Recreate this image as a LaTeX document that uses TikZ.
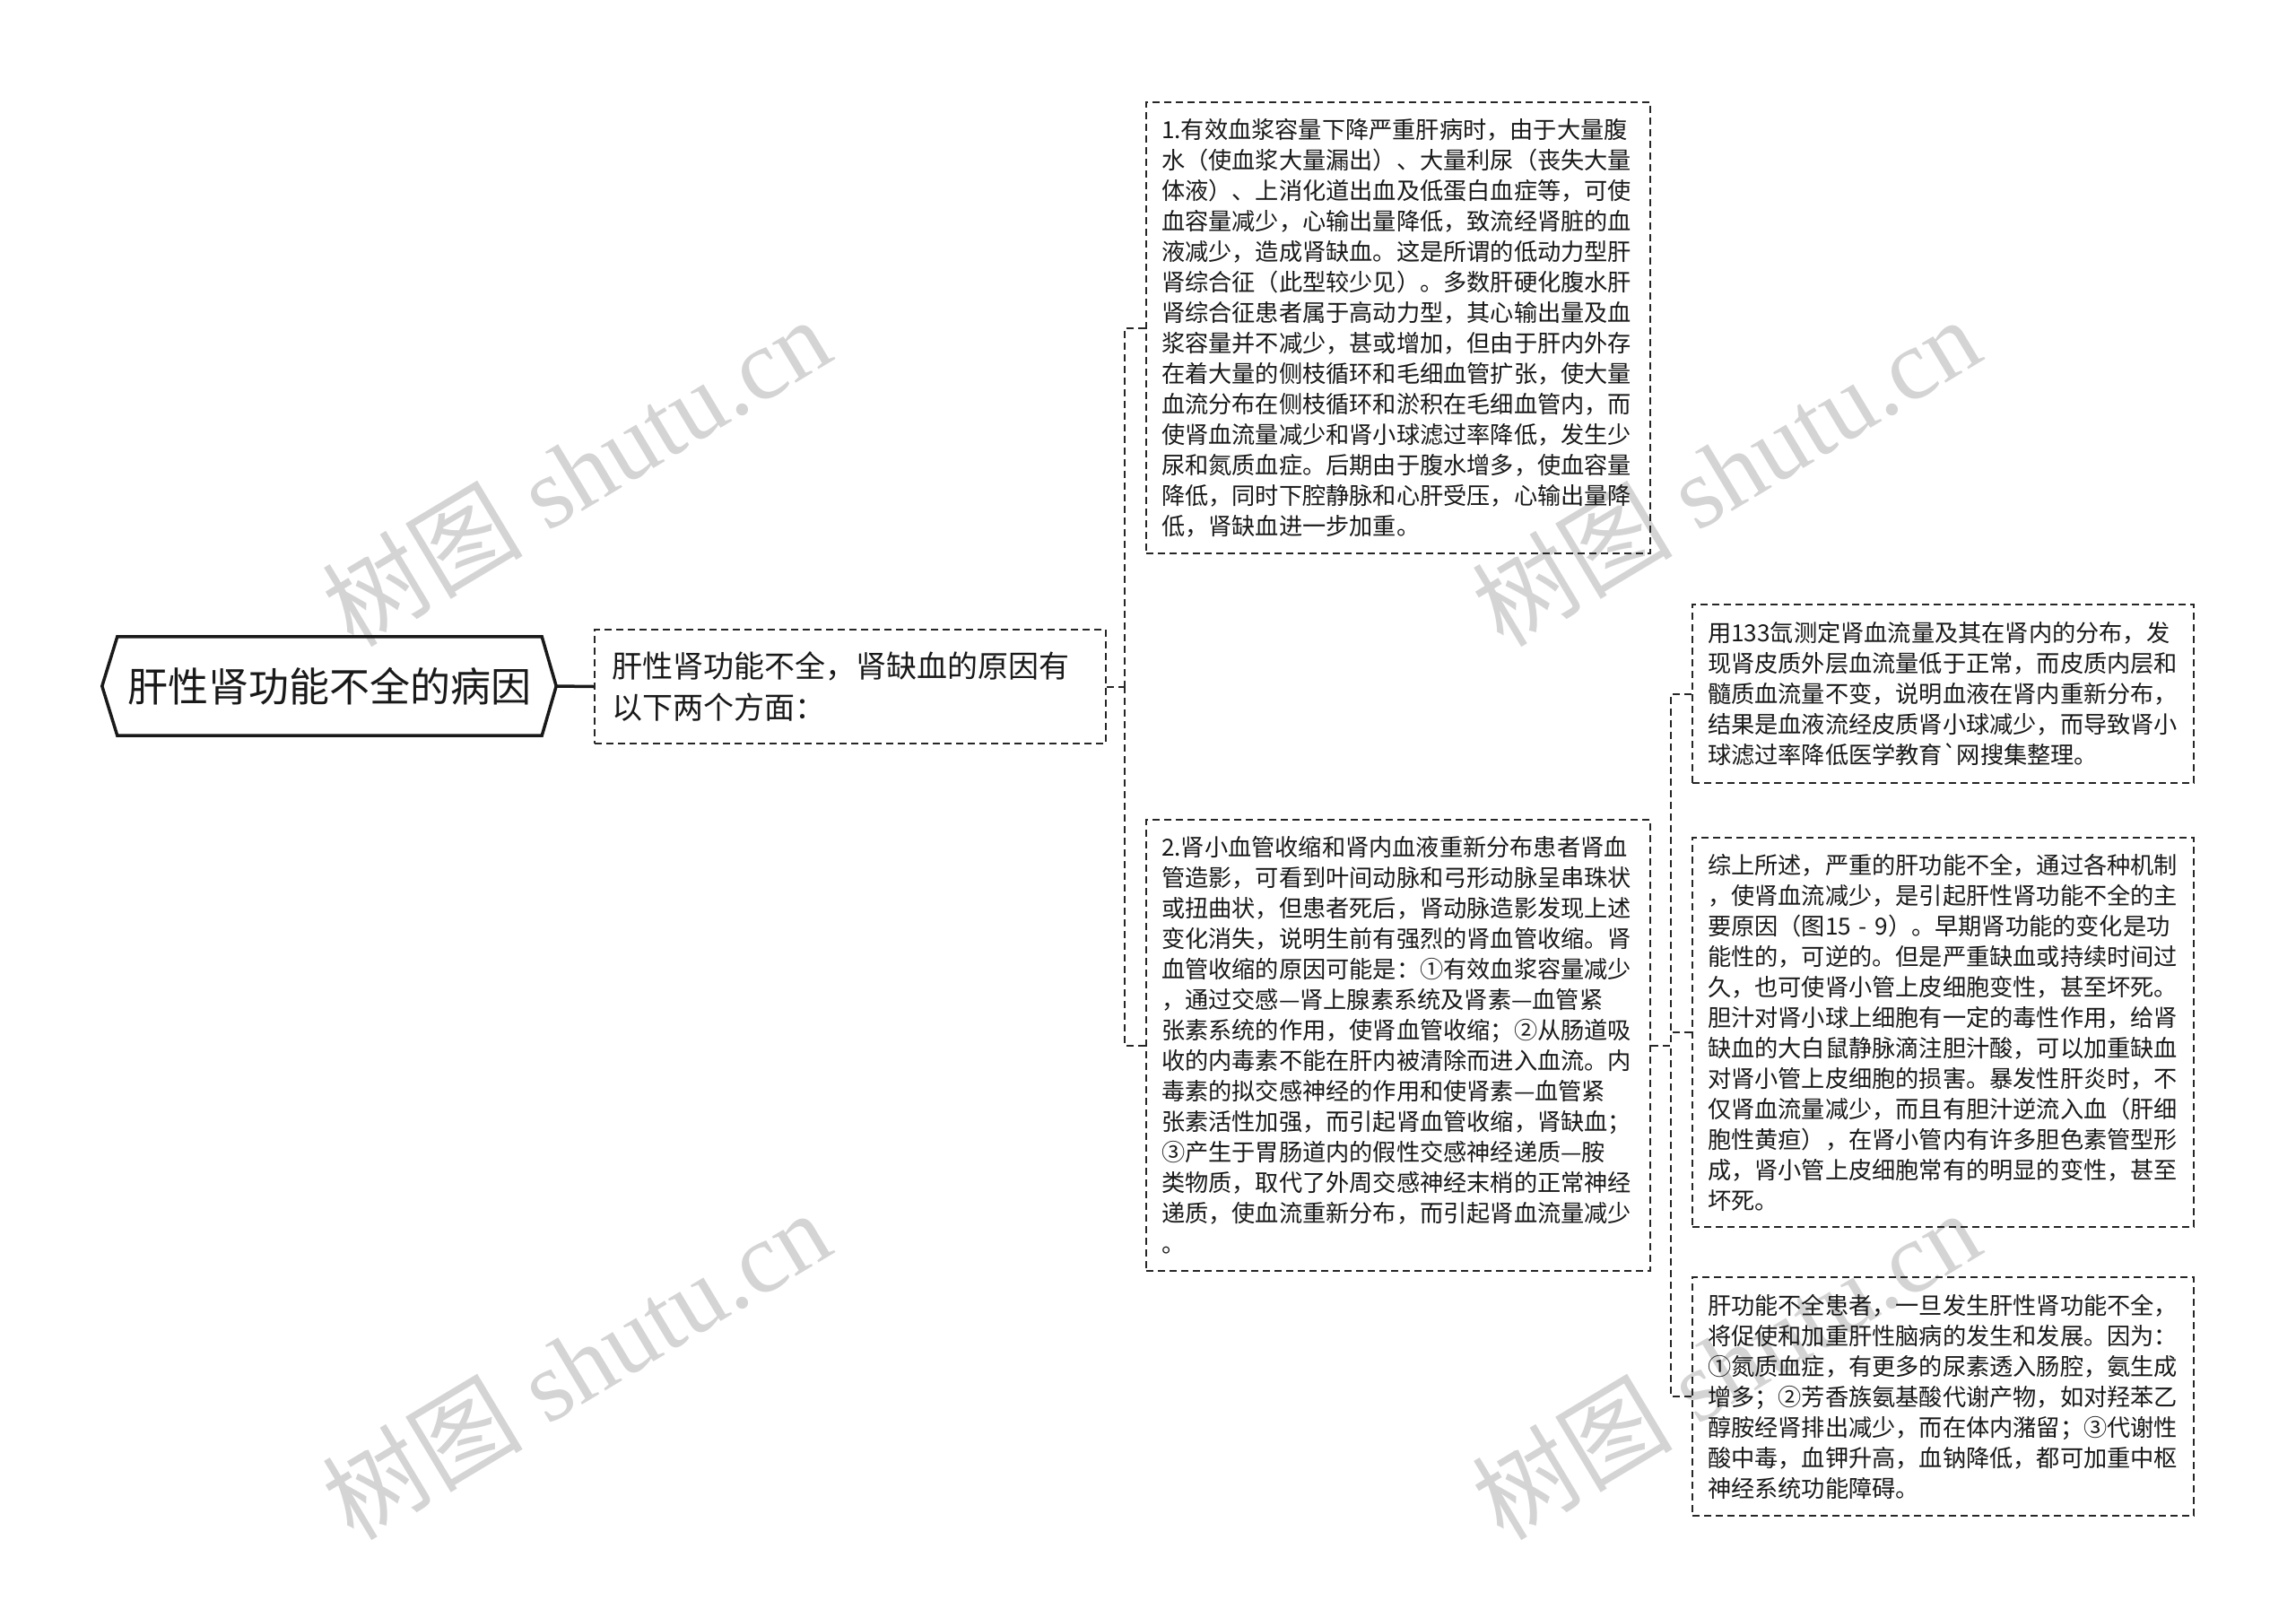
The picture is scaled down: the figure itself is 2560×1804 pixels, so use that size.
\documentclass[tikz,border=0pt]{standalone}
\usepackage{fontspec}
\setmainfont{Noto Sans CJK SC}
\newfontfamily\wmlatin{Liberation Serif}
\newfontfamily\wmcjk{Noto Sans CJK SC}
\newfontfamily\plaincjk{Noto Sans CJK SC}
\usetikzlibrary{calc}
\begin{document}
\begin{tikzpicture}[x=1pt,y=-1pt,
  txtbox/.style={draw=black!85, line width=2pt, dash pattern=on 8pt off 5pt,
    align=left, inner xsep=17pt, inner ysep=0pt, text=black!90,
    font=\fontsize{26.2}{34}\selectfont},
  conn/.style={draw=black!85, line width=2pt, dash pattern=on 8pt off 5pt},
  rootline/.style={draw=black!90, line width=3.5pt, line join=miter},
  wm/.style={text=black!17, rotate=31, inner sep=0pt,
    font=\wmlatin\fontsize{112}{112}\selectfont}
]
\fill[white] (0,0) rectangle (2560,1804);
\useasboundingbox (0,0) rectangle (2560,1804);

% watermarks
\node[wm] (wm1) at (642,525) {{\wmcjk 树图} shutu.cn};
\node[wm] (wm2) at (642,1521) {{\wmcjk 树图} shutu.cn};
\node[wm] (wm3) at (1924,525) {{\wmcjk 树图} shutu.cn};
\node[wm] (wm4) at (1924,1521) {{\wmcjk 树图} shutu.cn};

% root
\node[inner sep=0pt, minimum width=473pt, minimum height=110pt,
  font=\fontsize{45}{50}\selectfont, text=black!90] (root) at (367.5,765) {肝性肾功能不全的病因};
\draw[rootline] (root.north west) -- (root.north east) -- ($(root.east)+(16,0)$)
  -- (root.south east) -- (root.south west) -- ($(root.west)+(-17,0)$) -- cycle;

% middle
\node[txtbox, inner xsep=19pt, text width=532pt, minimum height=127pt,
  font=\fontsize{34}{46}\selectfont] (mid) at (948,765.5)
  {肝性肾功能不全，肾缺血的原因有\\以下两个方面：};

% box 1
\node[txtbox, text width=528pt, minimum height=503pt] (box1) at (1559,365.5)
{1.有效血浆容量下降严重肝病时，由于大量腹\\水（使血浆大量漏出）、大量利尿（丧失大量\\体液）、上消化道出血及低蛋白血症等，可使\\血容量减少，心输出量降低，致流经肾脏的血\\液减少，造成肾缺血。这是所谓的低动力型肝\\肾综合征（此型较少见）。多数肝硬化腹水肝\\肾综合征患者属于高动力型，其心输出量及血\\浆容量并不减少，甚或增加，但由于肝内外存\\在着大量的侧枝循环和毛细血管扩张，使大量\\血流分布在侧枝循环和淤积在毛细血管内，而\\使肾血流量减少和肾小球滤过率降低，发生少\\尿和氮质血症。后期由于腹水增多，使血容量\\降低，同时下腔静脉和心肝受压，心输出量降\\低，肾缺血进一步加重。};

% box 2
\node[txtbox, text width=528pt, minimum height=503pt] (box2) at (1559,1165.5)
{2.肾小血管收缩和肾内血液重新分布患者肾血\\管造影，可看到叶间动脉和弓形动脉呈串珠状\\或扭曲状，但患者死后，肾动脉造影发现上述\\变化消失，说明生前有强烈的肾血管收缩。肾\\血管收缩的原因可能是：①有效血浆容量减少\\，通过交感—肾上腺素系统及肾素—血管紧\\张素系统的作用，使肾血管收缩；②从肠道吸\\收的内毒素不能在肝内被清除而进入血流。内\\毒素的拟交感神经的作用和使肾素—血管紧\\张素活性加强，而引起肾血管收缩，肾缺血；\\③产生于胃肠道内的假性交感神经递质—胺\\类物质，取代了外周交感神经末梢的正常神经\\递质，使血流重新分布，而引起肾血流量减少\\。};

% box 3
\node[txtbox, text width=525pt, minimum height=199pt] (box3) at (2166.5,773.5)
{用133氙测定肾血流量及其在肾内的分布，发\\现肾皮质外层血流量低于正常，而皮质内层和\\髓质血流量不变，说明血液在肾内重新分布，\\结果是血液流经皮质肾小球减少，而导致肾小\\球滤过率降低医学教育{\plaincjk `}网搜集整理。};

% box 4
\node[txtbox, text width=525pt, minimum height=434pt] (box4) at (2166.5,1151)
{综上所述，严重的肝功能不全，通过各种机制\\，使肾血流减少，是引起肝性肾功能不全的主\\要原因（图15 - 9）。早期肾功能的变化是功\\能性的，可逆的。但是严重缺血或持续时间过\\久，也可使肾小管上皮细胞变性，甚至坏死。\\胆汁对肾小球上细胞有一定的毒性作用，给肾\\缺血的大白鼠静脉滴注胆汁酸，可以加重缺血\\对肾小管上皮细胞的损害。暴发性肝炎时，不\\仅肾血流量减少，而且有胆汁逆流入血（肝细\\胞性黄疸），在肾小管内有许多胆色素管型形\\成，肾小管上皮细胞常有的明显的变性，甚至\\坏死。};

% box 5
\node[txtbox, text width=525pt, minimum height=266pt] (box5) at (2166.5,1557)
{肝功能不全患者，一旦发生肝性肾功能不全，\\将促使和加重肝性脑病的发生和发展。因为：\\①氮质血症，有更多的尿素透入肠腔，氨生成\\增多；②芳香族氨基酸代谢产物，如对羟苯乙\\醇胺经肾排出减少，而在体内潴留；③代谢性\\酸中毒，血钾升高，血钠降低，都可加重中枢\\神经系统功能障碍。};

% connectors
\draw[rootline] ($(root.east)+(16,0)$) -- (mid.west);
\coordinate (busL) at (1254,765.5);
\draw[conn] (mid.east) -- (busL);
\draw[conn] (box1.west) -| (busL);
\draw[conn] (box2.west) -| (busL);
\coordinate (busR) at (1863,1165.5);
\draw[conn] (box2.east) -- (busR);
\draw[conn] (box3.west) -| (busR);
\draw[conn] (box4.west) -| (busR);
\draw[conn] (box5.west) -| (busR);
\end{tikzpicture}
\end{document}
